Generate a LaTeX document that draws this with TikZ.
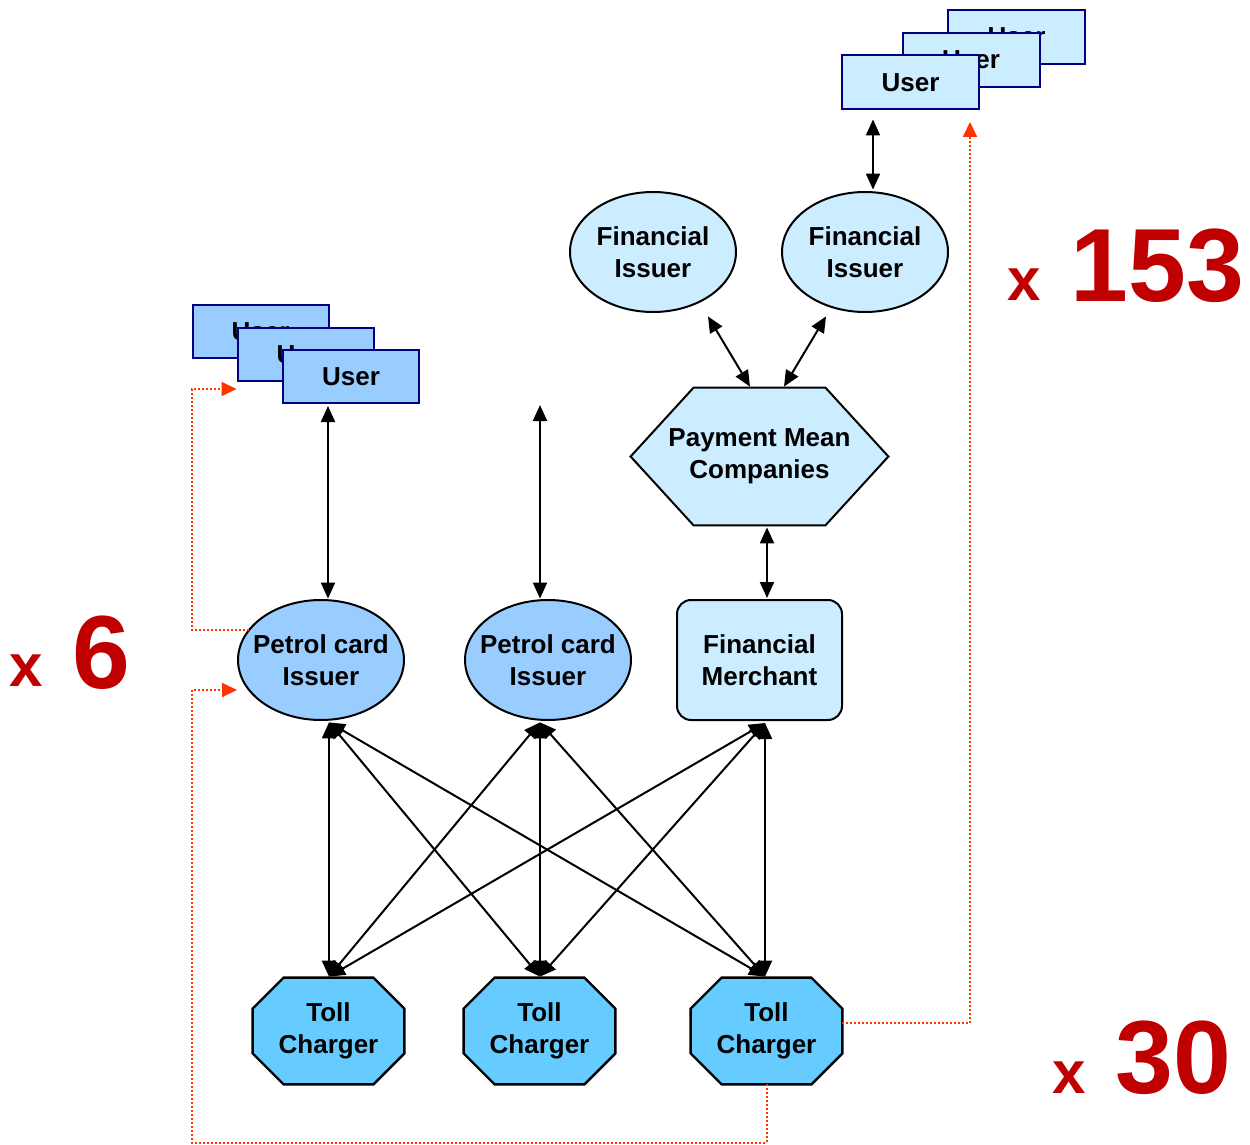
\documentclass[tikz,border=0pt]{standalone}
\usepackage{fontspec}
\setmainfont{Liberation Sans}
\usetikzlibrary{arrows.meta,backgrounds,shapes.geometric}
\definecolor{lightb}{HTML}{CCECFF}
\definecolor{midb}{HTML}{99CCFF}
\definecolor{tollb}{HTML}{66CCFF}
\definecolor{navyb}{HTML}{000080}
\definecolor{dotred}{HTML}{FF3300}
\definecolor{bigred}{HTML}{C00000}
\begin{document}
\begin{tikzpicture}[x=0.5pt,y=-0.5pt,
  lbl/.style={font=\fontsize{13}{16}\selectfont\bfseries, align=center, text=black},
  userR/.style={lbl, rectangle, draw=navyb, fill=lightb, line width=1pt, minimum width=68.5pt, minimum height=27pt, inner sep=0pt},
  userL/.style={lbl, rectangle, draw=navyb, fill=midb, line width=1pt, minimum width=68pt, minimum height=26.5pt, inner sep=0pt},
  ellbox/.style={lbl, rectangle, minimum width=83pt, minimum height=60pt, inner sep=0pt},
  merch/.style={lbl, rectangle, rounded corners=7pt, draw=black, fill=lightb, line width=1pt, minimum width=82.5pt, minimum height=60pt, inner sep=0pt},
  hexbox/.style={lbl, rectangle, minimum width=128.5pt, minimum height=68.5pt, inner sep=0pt},
  tollbox/.style={lbl, rectangle, minimum width=75.5pt, minimum height=53pt, inner sep=0pt},
  arr/.style={{Triangle[length=8pt,width=7pt]}-{Triangle[length=8pt,width=7pt]}, line width=1pt, black},
  rarr/.style={-{Triangle[length=7.5pt,width=7pt]}, dotred, line width=1pt, dash pattern=on 1pt off 1pt},
  bigx/.style={font=\fontsize{30}{30}\selectfont\bfseries, text=bigred, inner sep=0pt, anchor=base west},
  bignum/.style={font=\fontsize{52}{52}\selectfont\bfseries, text=bigred, inner sep=0pt, anchor=base west}
]
\useasboundingbox (0,0) rectangle (1250,1145);

% top-right users
\node[userR] (uR3) at (1016.5,37) {User};
\node[userR] (uR2) at (971,60) {User};
\node[userR] (uR1) at (910.5,82.5) {User};

% left users
\node[userL] (uL3) at (260.5,331.5) {User};
\node[userL] (uL2) at (305.5,354.5) {User};
\node[userL] (uL1) at (351,377) {User};

% financial issuers
\node[ellbox] (fi1) at (653,252) {Financial\\Issuer};
\node[ellbox] (fi2) at (865,252) {Financial\\Issuer};

% payment mean companies
\node[hexbox] (pmc) at (759.5,456.5) {Payment Mean\\Companies};

% financial merchant
\node[merch] (fm) at (759.5,660) {Financial\\Merchant};

% petrol card issuers
\node[ellbox] (pci1) at (321,660) {Petrol card\\Issuer};
\node[ellbox] (pci2) at (548,660) {Petrol card\\Issuer};

% toll chargers
\node[tollbox] (tc1) at (328.5,1031) {Toll\\Charger};
\node[tollbox] (tc2) at (539.5,1031) {Toll\\Charger};
\node[tollbox] (tc3) at (766.5,1031) {Toll\\Charger};

\begin{pgfonlayer}{background}
\foreach \e in {fi1,fi2}
  \draw[fill=lightb, line width=1pt] (\e.center) ellipse [x radius=41.5pt, y radius=30pt];
\foreach \e in {pci1,pci2}
  \draw[fill=midb, line width=1pt] (\e.center) ellipse [x radius=41.5pt, y radius=30pt];
\draw[fill=lightb, line width=1pt] (pmc.west) -- ([xshift=31.5pt]pmc.north west) -- ([xshift=-31.5pt]pmc.north east) -- (pmc.east) -- ([xshift=-31.5pt]pmc.south east) -- ([xshift=31.5pt]pmc.south west) -- cycle;
\foreach \t in {tc1,tc2,tc3}
  \draw[fill=tollb, line width=1.2pt] ([yshift=-15.5pt]\t.north west) -- ([xshift=15.5pt]\t.north west) -- ([xshift=-15.5pt]\t.north east) -- ([yshift=-15.5pt]\t.north east) -- ([yshift=15.5pt]\t.south east) -- ([xshift=-15.5pt]\t.south east) -- ([xshift=15.5pt]\t.south west) -- ([yshift=15.5pt]\t.south west) -- cycle;
\end{pgfonlayer}

% black connectors
\draw[arr] ([xshift=-18.75pt,yshift=-4.5pt]uR1.south) -- ([xshift=4pt,yshift=1pt]fi2.north);
\draw[arr] ([xshift=27.5pt,yshift=-2pt]fi1.south) -- ([xshift=-4.75pt,yshift=0.5pt]pmc.north);
\draw[arr] ([xshift=-19.5pt,yshift=-2pt]fi2.south) -- ([xshift=12.25pt,yshift=0.5pt]pmc.north);
\draw[arr] ([xshift=3.75pt,yshift=-1pt]pmc.south) -- ([xshift=3.75pt,yshift=0.5pt]fm.north);
\draw[arr] ([xshift=-11.5pt,yshift=-0.75pt]uL1.south) -- ([xshift=3.5pt,yshift=0.5pt]pci1.north);
\coordinate (free) at (540,405);
\draw[arr] (free) -- ([xshift=-4pt,yshift=0.5pt]pci2.north);

\foreach \s/\sx in {pci1/4pt, pci2/-4pt, fm/2.75pt}
  \foreach \t/\tx in {tc1/0.25pt, tc2/0.25pt, tc3/-0.75pt}
    \draw[arr] ([xshift=\sx,yshift=-1pt]\s.south) -- ([xshift=\tx,yshift=0.5pt]\t.north);

% red dotted connectors
\coordinate (Lx) at (192,0);
\coordinate (By) at (0,1143);
\coordinate (Rtop) at (970,122);
\coordinate (pciL) at ([xshift=-36pt,yshift=15pt]pci1.center);
\coordinate (pciIn) at ([xshift=-42pt,yshift=-15pt]pci1.center);
\draw[rarr] (pciL) -- (pciL -| Lx) |- ([yshift=-3.5pt]uL2.south west);
\draw[rarr] (tc3.south) -- (tc3.south |- By) -| (Lx |- pciIn) -- (pciIn);
\draw[rarr] ([yshift=4pt]tc3.east) -| (Rtop);

% multipliers
\node[bigx] (x6) at (9,686) {x};
\node[bignum] (n6) at (72,688) {6};
\node[bigx] (x153) at (1007,300) {x};
\node[bignum] (n153) at (1070,302) {153};
\node[bigx] (x30) at (1052,1093) {x};
\node[bignum] (n30) at (1115,1093) {30};
\end{tikzpicture}
\end{document}
